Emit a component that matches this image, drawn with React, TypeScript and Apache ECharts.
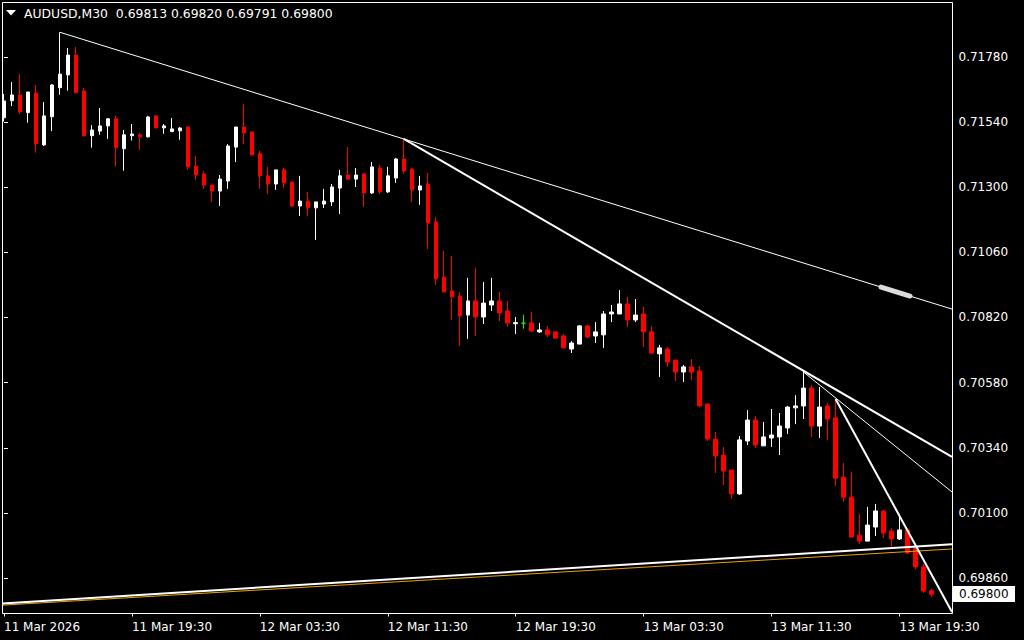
import React, { useEffect, useRef } from "react";
import * as echarts from "echarts";

const symbolName = "AUDUSD,M30";
const startTime = { year: 2026, month: 2, day: 11, hour: 11, minute: 30 };
const barMinutes = 30;
const futureSlots = 2;

const opens = [
  0.71556, 0.71619, 0.7164, 0.71575, 0.71647, 0.71456, 0.7156, 0.71667, 0.71714, 0.71787,
  0.71655, 0.7149, 0.71507, 0.71526, 0.71552, 0.71442, 0.7149, 0.71493, 0.71486, 0.71563,
  0.71519, 0.71505, 0.71508, 0.71522, 0.71378, 0.71349, 0.71308, 0.71286, 0.71323, 0.71448,
  0.71522, 0.71504, 0.71423, 0.71342, 0.71312, 0.71364, 0.71319, 0.71231, 0.71249, 0.71224,
  0.71238, 0.71246, 0.71297, 0.71345, 0.7133, 0.71349, 0.71279, 0.71371, 0.71283, 0.71334,
  0.71404, 0.71367, 0.7129, 0.71312, 0.71172, 0.70969, 0.70918, 0.70899, 0.70829, 0.70881,
  0.70822, 0.70866, 0.70881, 0.70844, 0.70797, 0.70799, 0.708, 0.70767, 0.70774, 0.70767,
  0.70752, 0.70704, 0.70722, 0.70789, 0.70752, 0.70756, 0.70833, 0.70833, 0.7087, 0.70811,
  0.70833, 0.70767, 0.70686, 0.70704, 0.70663, 0.70619, 0.70638, 0.70623, 0.70501, 0.70372,
  0.70313, 0.70258, 0.7017, 0.70365, 0.70442, 0.70347, 0.70376, 0.7038, 0.70413, 0.70487,
  0.70494, 0.7056, 0.7042, 0.70494, 0.7045, 0.70232, 0.70158, 0.70018, 0.69996, 0.70048,
  0.70107, 0.70033, 0.70004, 0.70037, 0.69971, 0.69901, 0.69813,
];
const highs = [
  0.71644, 0.71688, 0.71717, 0.71651, 0.71677, 0.71614, 0.7168, 0.71871, 0.71813, 0.71817,
  0.71666, 0.71529, 0.71592, 0.71555, 0.71563, 0.71511, 0.71533, 0.715, 0.71563, 0.71566,
  0.71533, 0.71555, 0.71522, 0.71524, 0.71415, 0.7136, 0.71308, 0.71345, 0.71459, 0.71522,
  0.71607, 0.71506, 0.71434, 0.71375, 0.71364, 0.71371, 0.71319, 0.71342, 0.71283, 0.71246,
  0.71294, 0.71312, 0.71364, 0.71448, 0.71371, 0.71353, 0.71393, 0.71382, 0.71375, 0.71408,
  0.7148, 0.71371, 0.71342, 0.71353, 0.7119, 0.71065, 0.71047, 0.70914, 0.70966, 0.71002,
  0.70951, 0.70966, 0.70914, 0.70881, 0.70822, 0.7083, 0.7084, 0.708, 0.70789, 0.70767,
  0.70759, 0.70733, 0.70792, 0.70792, 0.70803, 0.70844, 0.70866, 0.70921, 0.70896, 0.70888,
  0.70859, 0.70789, 0.70719, 0.70711, 0.70663, 0.70645, 0.70667, 0.70641, 0.70501, 0.70398,
  0.70343, 0.70258, 0.70383, 0.70479, 0.70457, 0.70435, 0.70483, 0.70468, 0.70494, 0.70534,
  0.70619, 0.70571, 0.70564, 0.70505, 0.7052, 0.70284, 0.70251, 0.70096, 0.70122, 0.70133,
  0.70111, 0.70044, 0.70085, 0.70037, 0.69971, 0.69912, 0.6982,
];
const lows = [
  0.71542, 0.71599, 0.7157, 0.71538, 0.71427, 0.71452, 0.71507, 0.71641, 0.71656, 0.71648,
  0.71486, 0.71446, 0.71493, 0.71478, 0.71376, 0.71361, 0.71472, 0.71438, 0.71483, 0.71516,
  0.71497, 0.71505, 0.71475, 0.71365, 0.71327, 0.71294, 0.71246, 0.71231, 0.71294, 0.71393,
  0.71459, 0.71417, 0.71294, 0.71275, 0.7129, 0.71297, 0.71227, 0.71194, 0.71194, 0.71106,
  0.71224, 0.71231, 0.71201, 0.71327, 0.71301, 0.71227, 0.71275, 0.71275, 0.71279, 0.71316,
  0.71349, 0.71246, 0.71235, 0.71072, 0.7094, 0.70914, 0.70811, 0.70715, 0.70741, 0.70752,
  0.70796, 0.70844, 0.70807, 0.70785, 0.70759, 0.70779, 0.70767, 0.70763, 0.70748, 0.70744,
  0.70708, 0.70689, 0.70722, 0.70744, 0.70726, 0.70708, 0.70803, 0.70833, 0.70785, 0.70803,
  0.70711, 0.70686, 0.70601, 0.70638, 0.70586, 0.70582, 0.7059, 0.7049, 0.70365, 0.70247,
  0.70203, 0.70151, 0.70166, 0.7035, 0.70339, 0.70347, 0.70343, 0.70313, 0.70391, 0.70427,
  0.70446, 0.7038, 0.70376, 0.70369, 0.70199, 0.7014, 0.70011, 0.69985, 0.69996, 0.70015,
  0.70007, 0.69974, 0.7, 0.69949, 0.69893, 0.69805, 0.69791,
];
const closes = [
  0.71618, 0.7164, 0.71578, 0.71651, 0.7146, 0.71563, 0.71677, 0.71717, 0.71787, 0.71648,
  0.7149, 0.71511, 0.71526, 0.71552, 0.71446, 0.71493, 0.71496, 0.71486, 0.71559, 0.71519,
  0.71526, 0.71515, 0.71518, 0.71375, 0.71345, 0.71308, 0.71286, 0.7133, 0.71452, 0.71522,
  0.715, 0.71419, 0.71342, 0.71312, 0.71364, 0.71316, 0.71231, 0.71249, 0.71224, 0.71246,
  0.71249, 0.71301, 0.71342, 0.7133, 0.71345, 0.71279, 0.71375, 0.71283, 0.71342, 0.71404,
  0.7136, 0.7129, 0.71305, 0.71168, 0.70962, 0.70914, 0.70896, 0.70826, 0.70881, 0.70822,
  0.70873, 0.70881, 0.70837, 0.708, 0.70801, 0.70799, 0.7077, 0.70774, 0.70756, 0.70744,
  0.70708, 0.70726, 0.70789, 0.70748, 0.70767, 0.70833, 0.7084, 0.7087, 0.70811, 0.70829,
  0.70767, 0.70689, 0.70708, 0.70656, 0.70619, 0.70638, 0.70619, 0.70494, 0.70372, 0.7031,
  0.70254, 0.7017, 0.70369, 0.70442, 0.7035, 0.7038, 0.70387, 0.7042, 0.7049, 0.70494,
  0.7056, 0.7042, 0.7049, 0.70446, 0.70228, 0.70158, 0.70011, 0.69996, 0.70055, 0.70107,
  0.70026, 0.70004, 0.70037, 0.69952, 0.69901, 0.69812, 0.698,
];

const xTickLabels = [
  "11 Mar 2026", "11 Mar 19:30", "12 Mar 03:30", "12 Mar 11:30",
  "12 Mar 19:30", "13 Mar 03:30", "13 Mar 11:30", "13 Mar 19:30",
];
const xTickEvery = 16;
const yTickValues = [0.6986, 0.701, 0.7034, 0.7058, 0.7082, 0.7106, 0.713, 0.7154, 0.7178];
const yMin = 0.697292;
const yMax = 0.719808;

// trendlines: [bar index, price] anchor pairs
const trendThinUpper = [[7, 0.71871], [118.56, 0.70851]];
const trendThickMain = [[50, 0.71478], [118.56, 0.70306]];
const trendThinLower = [[100, 0.70619], [118.56, 0.70177]];
const trendThickSteep = [[104, 0.7052], [118.56, 0.69735]];
const supportWhite = [[-0.19, 0.69766], [118.56, 0.69984]];
const supportOrange = [[-0.19, 0.6976], [118.56, 0.69967]];
const selectedMark = [[109.69, 0.70932], [113.31, 0.70899]];

const FONT = "'DejaVu Sans', Tahoma, Verdana, sans-serif";
const MONTHS = ["Jan", "Feb", "Mar", "Apr", "May", "Jun", "Jul", "Aug", "Sep", "Oct", "Nov", "Dec"];

function pad(n: number) {
  return n < 10 ? "0" + n : String(n);
}

function buildCategories(): string[] {
  const out: string[] = [];
  const total = opens.length + futureSlots;
  for (let i = 0; i < total; i++) {
    const d = new Date(Date.UTC(startTime.year, startTime.month, startTime.day, startTime.hour, startTime.minute + i * barMinutes));
    out.push(`${d.getUTCDate()} ${MONTHS[d.getUTCMonth()]} ${pad(d.getUTCHours())}:${pad(d.getUTCMinutes())}`);
  }
  return out;
}

export default function App() {
  const ref = useRef<HTMLDivElement>(null);

  useEffect(() => {
    if (!ref.current) return;
    const chart = echarts.init(ref.current, null, { renderer: "svg" });
    const categories = buildCategories();
    const n = categories.length;

    const candleData = opens.map((o, i) => {
      const item: any = { value: [o, closes[i], lows[i], highs[i]] };
      if (o === closes[i]) {
        item.itemStyle = {
          color: "#00ff00",
          color0: "#00ff00",
          borderColor: "#00ff00",
          borderColor0: "#00ff00",
          borderColorDoji: "#00ff00",
        };
      }
      return item;
    });

    const mkLine = (data: number[][], color: string, width: number, z = 5, cap = "butt") => ({
      type: "line",
      xAxisIndex: 1,
      yAxisIndex: 0,
      data,
      symbol: "none",
      silent: true,
      z,
      lineStyle: { color, width, cap },
    });

    const last = opens.length - 1;
    const header = `${symbolName}  ${opens[last].toFixed(5)} ${highs[last].toFixed(5)} ${lows[last].toFixed(5)} ${closes[last].toFixed(5)}`;

    chart.setOption({
      animation: false,
      backgroundColor: "#000000",
      textStyle: { fontFamily: FONT },
      grid: { left: -0.5, top: 2.5, width: n * 8, height: 611, containLabel: false },
      xAxis: [
        {
          type: "category",
          data: categories,
          boundaryGap: true,
          axisLine: { show: false },
          axisTick: {
            show: true,
            alignWithLabel: true,
            length: 3,
            interval: (idx: number) => idx % xTickEvery === 0,
            lineStyle: { color: "#ffffff", width: 1 },
          },
          axisLabel: {
            show: true,
            interval: (idx: number) => idx % xTickEvery === 0,
            formatter: (_v: string, idx: number) => xTickLabels[Math.round(idx / xTickEvery)] || "",
            color: "#ffffff",
            fontFamily: FONT,
            fontSize: 12,
            align: "left",
            margin: 7,
          },
          splitLine: { show: false },
        },
        {
          type: "value",
          position: "top",
          show: false,
          min: -0.5,
          max: n - 0.5,
          splitLine: { show: false },
        },
      ],
      yAxis: [
        {
          type: "value",
          position: "right",
          min: yMin,
          max: yMax,
          scale: true,
          splitLine: { show: false },
          axisLine: { show: false },
          axisTick: {
            show: true,
            length: 4,
            customValues: yTickValues,
            lineStyle: { color: "#ffffff", width: 1 },
          },
          axisLabel: {
            show: true,
            customValues: yTickValues,
            formatter: (v: number) => v.toFixed(5),
            color: "#ffffff",
            fontFamily: FONT,
            fontSize: 12,
            margin: 7,
          },
        },
      ],
      series: [
        {
          type: "candlestick",
          xAxisIndex: 0,
          yAxisIndex: 0,
          data: candleData,
          barWidth: 4,
          silent: true,
          z: 2,
          itemStyle: {
            color: "#ffffff",
            color0: "#ff0000",
            borderColor: "#ffffff",
            borderColor0: "#ff0000",
            borderColorDoji: "#00ff00",
            borderWidth: 1,
          },
        },
        mkLine(supportOrange, "#f0a000", 1, 4),
        mkLine(supportWhite, "#ffffff", 2),
        mkLine(trendThinUpper, "#ffffff", 1),
        mkLine(trendThickMain, "#ffffff", 2),
        mkLine(trendThinLower, "#ffffff", 1),
        mkLine(trendThickSteep, "#ffffff", 2),
        mkLine(selectedMark, "#dcdcdc", 5, 6, "round"),
      ],
    });

    const py = chart.convertToPixel({ yAxisIndex: 0 }, closes[last]) as number;

    chart.setOption({
      graphic: [
        {
          type: "rect",
          silent: true,
          z: 10,
          shape: { x: 2.5, y: 2.5, width: 950, height: 611 },
          style: { fill: "none", stroke: "#ffffff", lineWidth: 1 },
        },
        {
          type: "polygon",
          silent: true,
          z: 10,
          shape: { points: [[6, 10], [16, 10], [11, 15.5]] },
          style: { fill: "#ffffff" },
        },
        {
          type: "text",
          silent: true,
          z: 10,
          x: 24,
          y: 13.5,
          style: {
            text: header,
            fill: "#ffffff",
            font: `12.4px ${FONT}`,
            verticalAlign: "middle",
            align: "left",
          },
        },
        {
          type: "rect",
          silent: true,
          z: 10,
          shape: { x: 953, y: Math.round(py) - 8, width: 62, height: 16 },
          style: { fill: "#ffffff" },
        },
        {
          type: "text",
          silent: true,
          z: 11,
          x: 959,
          y: Math.round(py),
          style: {
            text: closes[last].toFixed(5),
            fill: "#000000",
            font: `12px ${FONT}`,
            verticalAlign: "middle",
            align: "left",
          },
        },
      ],
    });

    return () => chart.dispose();
  }, []);

  return (
    <div
      style={{ position: "fixed", left: 0, top: 0, width: 1024, height: 640, background: "#000" }}
    >
      <div ref={ref} style={{ width: 1024, height: 640 }} />
    </div>
  );
}
